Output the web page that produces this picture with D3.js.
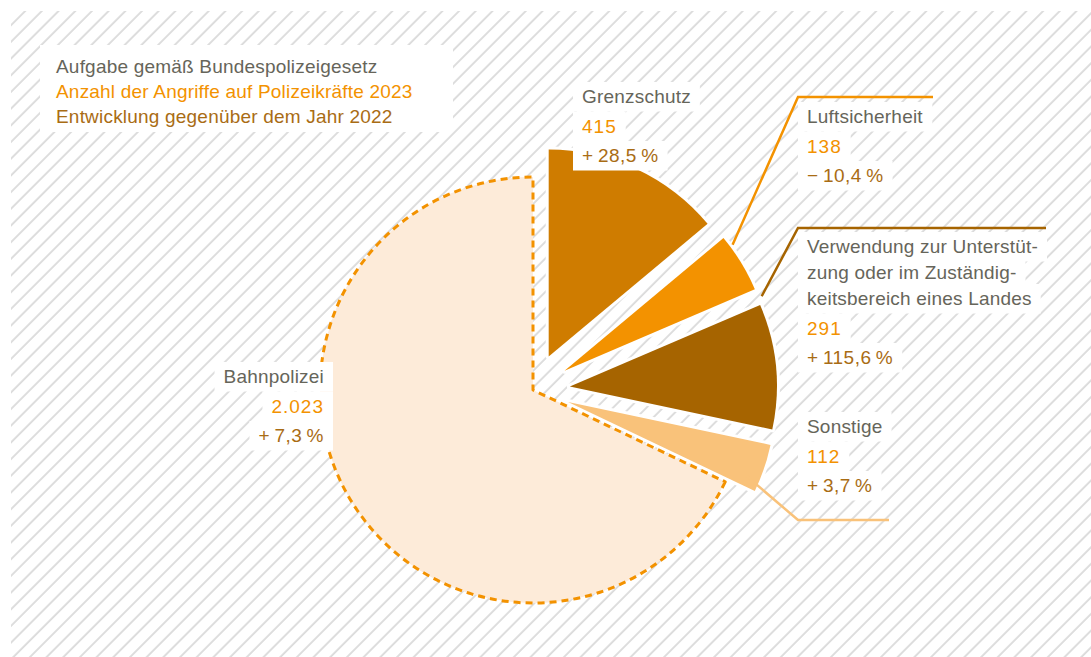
<!DOCTYPE html>
<html>
<head>
<meta charset="utf-8">
<script src="https://cdn.jsdelivr.net/npm/d3@7"></script>
<style>
  body { margin: 0; background: #fff; }
  svg text { font-family: "Liberation Sans", Arial, sans-serif; font-size: 19px; }
</style>
</head>
<body>
<svg id="chart" width="1091" height="657"></svg>
<script>
// data
var categories = ["Grenzschutz", "Luftsicherheit", "Verwendung", "Sonstige", "Bahnpolizei"]
var titleLines = [
  ["Grenzschutz"],
  ["Luftsicherheit"],
  ["Verwendung zur Unterstüt-", "zung oder im Zuständig-", "keitsbereich eines Landes"],
  ["Sonstige"],
  ["Bahnpolizei"]
]
var attacks2023 = [415, 138, 291, 112, 2023]
var change2022 = [28.5, -10.4, 115.6, 3.7, 7.3]
var legendLines = ["Aufgabe gemäß Bundespolizeigesetz", "Anzahl der Angriffe auf Polizeikräfte 2023", "Entwicklung gegenüber dem Jahr 2022"]

var sliceColors = ["#cf7c00", "#f39200", "#a66400", "#f9c27a", "#fdebd9"]
var grey = "#66655a", orange = "#f39200", brown = "#a96c14"

var de = d3.formatLocale({decimal: ",", thousands: ".", grouping: [3], currency: ["", " €"]})
var fmtN = de.format(",")
var fmtP = de.format(".1f")
function fmtChange(v) {
  return (v < 0 ? "\u2212" : "+") + "\u2009" + fmtP(Math.abs(v)) + "\u2009%"
}

var svg = d3.select("#chart")

// hatched background
var defs = svg.append("defs")
var pat = defs.append("pattern")
  .attr("id", "hatch")
  .attr("patternUnits", "userSpaceOnUse")
  .attr("width", 11.8).attr("height", 11.8)
  .attr("patternTransform", "rotate(45)")
pat.append("line")
  .attr("x1", 2).attr("y1", 0).attr("x2", 2).attr("y2", 11.8)
  .style("stroke", "#aaaaaa").style("stroke-width", 0.8)

svg.append("rect")
  .attr("x", 11).attr("y", 11).attr("width", 1080).attr("height", 646)
  .style("fill", "url(#hatch)")

// pie
var cx = 533, cy = 390
var rBig = 213, rSmall = 207, explode = 37

var pie = d3.pie().sort(null).value(function(d){ return d })
var arcs = pie(attacks2023)

var arcBig = d3.arc().innerRadius(0).outerRadius(rBig)
var arcSmall = d3.arc().innerRadius(0).outerRadius(rSmall)

function offset(a) {
  if (a.index == 4) return [0, 0]
  var mid = (a.startAngle + a.endAngle) / 2
  return [Math.sin(mid) * explode, -Math.cos(mid) * explode]
}

var pieG = svg.append("g").attr("transform", `translate(${cx},${cy})`)

pieG.selectAll("path")
  .data(arcs)
  .enter()
  .append("path")
  .attr("transform", function(d){
    var o = offset(d)
    return `translate(${o[0]},${o[1]})`
  })
  .attr("d", function(d){ return d.index == 4 ? arcBig(d) : arcSmall(d) })
  .style("fill", function(d){ return sliceColors[d.index] })
  .style("stroke", function(d){ return d.index == 4 ? orange : "#fff" })
  .style("stroke-width", function(d){ return d.index == 4 ? 3 : 6 })
  .style("stroke-dasharray", function(d){ return d.index == 4 ? "7,5" : null })
  .style("stroke-linejoin", "round")
  .style("paint-order", function(d){ return d.index == 4 ? "normal" : "stroke" })

// leader lines: anchor on the arc (angle shift in degrees, radius), elbow, end
var leaders = {
  1: {shift: 3, from: "start", r: 210, elbow: [798, 97], end: 933},
  2: {shift: -2, from: "start", r: 212, elbow: [798, 228], end: 1046},
  3: {shift: -3, from: "end", r: 193, elbow: [798, 520], end: 889}
}
Object.keys(leaders).forEach(function(k){
  var a = arcs[+k], L = leaders[k]
  var o = offset(a)
  var ang = (L.from == "start" ? a.startAngle : a.endAngle) + L.shift * Math.PI / 180
  var p = [cx + o[0] + Math.sin(ang) * L.r, cy + o[1] - Math.cos(ang) * L.r]
  svg.append("path")
    .attr("d", d3.line()([p, L.elbow, [L.end, L.elbow[1]]]))
    .style("fill", "none")
    .style("stroke", sliceColors[+k])
    .style("stroke-width", 2.5)
})

// labels
var labelPos = {
  0: {x: 582, y: 103, anchor: "start"},
  1: {x: 807, y: 123, anchor: "start"},
  2: {x: 807, y: 253, anchor: "start"},
  3: {x: 807, y: 433, anchor: "start"},
  4: {x: 324, y: 383, anchor: "end"}
}
var titleStep = 26, valueStep = 29.5, pad = 9

function addLine(g, txt, x, y, anchor, color, ls) {
  var box = g.append("rect").style("fill", "#fff")
  var t = g.append("text")
    .text(txt)
    .attr("x", x).attr("y", y)
    .attr("text-anchor", anchor)
    .style("fill", color)
    .style("letter-spacing", ls + "px")
  var bb = t.node().getBBox()
  box.attr("x", bb.x - pad).attr("y", y - 21)
     .attr("width", bb.width + pad * 2).attr("height", 29.5)
}

var labelG = svg.append("g")
categories.forEach(function(c, i){
  var p = labelPos[i]
  var g = labelG.append("g")
  var y = p.y
  titleLines[i].forEach(function(line, j){
    addLine(g, line, p.x, y, p.anchor, grey, 0.2)
    if (j < titleLines[i].length - 1) y += titleStep
  })
  y += valueStep
  addLine(g, fmtN(attacks2023[i]), p.x, y, p.anchor, orange, 1)
  y += valueStep
  addLine(g, fmtChange(change2022[i]), p.x, y, p.anchor, brown, 0.5)
})
// bring texts over neighbouring boxes
labelG.selectAll("text").raise()

// legend
var legend = svg.append("g")
legend.append("rect")
  .attr("x", 40).attr("y", 45).attr("width", 413).attr("height", 87)
  .style("fill", "#fff")
legend.selectAll("text")
  .data(legendLines)
  .enter()
  .append("text")
  .text(function(d){ return d })
  .attr("x", 56)
  .attr("y", function(d, i){ return 73 + i * 25 })
  .style("fill", function(d, i){ return [grey, orange, brown][i] })
  .style("letter-spacing", "0.2px")
</script>
</body>
</html>
